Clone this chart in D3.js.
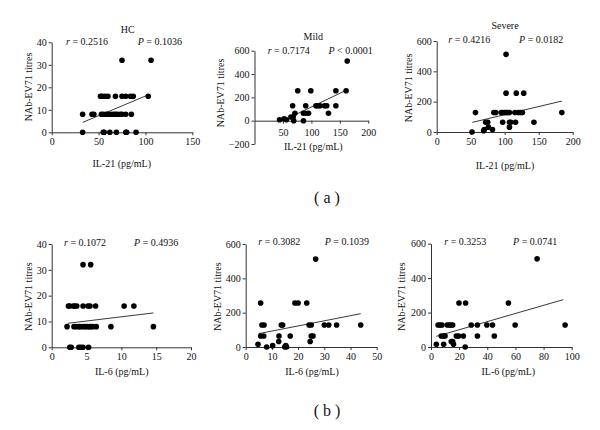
<!DOCTYPE html>
<html><head><meta charset="utf-8">
<script src="https://cdn.jsdelivr.net/npm/d3@7"></script>
<style>
html,body{margin:0;padding:0;background:#fff;}
svg text{font-family:"Liberation Serif","DejaVu Serif",serif;fill:#111;}
</style></head>
<body>
<svg id="chart" width="600" height="430"></svg>
<script>
// ---------- data ----------
const hcIL21 = [75,106, 52,54,57,60,68,75,79,84,87,103, 33,43,45,53,55,58,60,63,66,68,70,73,75,79,85, 33,55,56,62,69,79,80,90];
const hcTitre = [32,32, 16,16,16,16,16,16,16,16,16,16, 8,8,8,8,8,8,8,8,8,8,8,8,8,8,8, 0,0,0,0,0,0,0,0];
const hcFit = [[33,4.4],[101,16.3]];

const mildIL21 = [163, 76,99,143,161, 67,90,108,111,115,123,127,143, 71,86,90,95,130, 64,68, 52, 44,56, 69,86];
const mildTitre = [512, 256,256,256,256, 128,128,128,128,128,128,128,128, 64,64,64,64,64, 32,32, 16, 8,8, 0,0];
const mildFit = [[65.7,37],[162,263]];

const sevIL21 = [102, 102,117,128, 57,84,87,95,97,100,102,104,107,115,120,123,126,184, 72,75,97,107,109,116,143, 76,107, 70,82, 69, 52];
const sevTitre = [512, 256,256,256, 128,128,128,128,128,128,128,128,128,128,128,128,128,128, 64,64,64,64,64,64,64, 32,32, 16,16, 8, 0];
const sevFit = [[52.5,63.5],[184,204]];

const hcIL6 = [4.5,5.6, 2.4,2.6,3.1,3.3,3.6,4.5,5.2,5.5,6.3,10.4,11.8, 2.2,3.2,3.5,3.9,4.1,4.5,4.8,5.1,5.4,5.6,5.9,6.4,8.5,14.6, 2.6,2.8,3.9,4.2,4.5,5.3];
const hcTitre6 = [32,32, 16,16,16,16,16,16,16,16,16,16,16, 8,8,8,8,8,8,8,8,8,8,8,8,8,8, 0,0,0,0,0,0];
const hcFit6 = [[2.3,9.3],[14.6,13.3]];

const mildIL6 = [26.7, 5.7,18.8,20,23.3, 6.2,7,13.6,14.1,24.2,25,30,31.7,34.7,43.9, 5.7,6.9,12.7,17,25,25.7, 12.6,24.6, 4.7, 10.3,15.3, 8,14.9,15.6];
const mildTitre6 = [512, 256,256,256,256, 128,128,128,128,128,128,128,128,128,128, 64,64,64,64,64,64, 32,32, 16, 8,8, 0,0,0];
const mildFit6 = [[5,78],[43.9,194]];

const sevIL6 = [75.4, 19.9,24.6,55, 5,6.4,7.8,11.6,13,14.2,15.4,28.6,33,39.7,43.7,59.8,95.3, 7.3,9,10,18,19.6,23,33,45, 14.4,15.4, 3.8,9,16, 24.3];
const sevTitre6 = [512, 256,256,256, 128,128,128,128,128,128,128,128,128,128,128,128,128, 64,64,64,64,64,64,64,64, 32,32, 16,16,16, 0];
const sevFit6 = [[3.8,62],[94,275]];

const rValues = ["0.2516","0.7174","0.4216","0.1072","0.3082","0.3253"];
const pValues = ["= 0.1036","< 0.0001","= 0.0182","= 0.4936","= 0.1039","= 0.0741"];
const panelTitles = ["HC","Mild","Severe","","",""];
const xTitles = ["IL-21 (pg/mL)","IL-21 (pg/mL)","IL-21 (pg/mL)","IL-6 (pg/mL)","IL-6 (pg/mL)","IL-6 (pg/mL)"];
const yTitle = "NAb-EV71 titres";
const sectionLabels = ["( a )","( b )"];

// ---------- layout ----------
const svg = d3.select("#chart");
const panels = [
  {xs:hcIL21, ys:hcTitre, fit:hcFit, xDom:[0,150], xT:[0,50,100,150], yDom:[0,40], yT:[0,10,20,30,40],
   px:[51.7,192.3], py:[132.3,42.3], xAxisAt:0, xPad:3,
   title:[127.7,32.5], rPos:[66,45], pEnd:182, xt:[121.7,166.5], yt:[28.5,87]},
  {xs:mildIL21, ys:mildTitre, fit:mildFit, xDom:[0,200], xT:[50,100,150,200], yDom:[-200,600], yT:[-200,0,200,400,600],
   px:[254.5,368.3], py:[144,50.7], xAxisAt:0, xPad:5,
   title:[313.3,39.5], rPos:[267.7,54], pEnd:372.7, xt:[313.3,149.5], yt:[220,93]},
  {xs:sevIL21, ys:sevTitre, fit:sevFit, xDom:[0,200], xT:[0,50,100,150,200], yDom:[0,600], yT:[0,200,400,600],
   px:[436.7,572.7], py:[132,41], xAxisAt:0, xPad:3,
   title:[505,28.5], rPos:[448.3,42.5], pEnd:563.3, xt:[505,168.5], yt:[408.3,88]},
  {xs:hcIL6, ys:hcTitre6, fit:hcFit6, xDom:[0,20], xT:[0,5,10,15,20], yDom:[0,40], yT:[0,10,20,30,40],
   px:[51.7,191], py:[347.3,244], xAxisAt:0, xPad:3,
   title:null, rPos:[64,245.5], pEnd:178.3, xt:[121.7,374.5], yt:[28.5,296.7]},
  {xs:mildIL6, ys:mildTitre6, fit:mildFit6, xDom:[0,50], xT:[0,10,20,30,40,50], yDom:[0,600], yT:[0,200,400,600],
   px:[245.7,376.7], py:[347,244], xAxisAt:0, xPad:3,
   title:null, rPos:[258.3,245], pEnd:369, xt:[312,374.5], yt:[217.7,296.7]},
  {xs:sevIL6, ys:sevTitre6, fit:sevFit6, xDom:[0,100], xT:[0,20,40,60,80,100], yDom:[0,600], yT:[0,200,400,600],
   px:[431,571.7], py:[347,243.7], xAxisAt:0, xPad:3,
   title:null, rPos:[444.3,245], pEnd:557.3, xt:[508.3,374.5], yt:[401,296.7]}
];

const fmt = v => v < 0 ? "\u2212" + Math.abs(v) : String(v);

panels.forEach((p, i) => {
  const x = d3.scaleLinear().domain(p.xDom).range(p.px);
  const y = d3.scaleLinear().domain(p.yDom).range(p.py);
  const g = svg.append("g");

  // y axis
  const ya = g.append("g").attr("transform", `translate(${p.px[0]},0)`)
    .call(d3.axisLeft(y).tickValues(p.yT).tickSize(3).tickSizeOuter(0).tickPadding(2).tickFormat(fmt));
  // x axis
  const xa = g.append("g").attr("transform", `translate(0,${y(p.xAxisAt)})`)
    .call(d3.axisBottom(x).tickValues(p.xT).tickSize(3).tickSizeOuter(0).tickPadding(p.xPad).tickFormat(fmt));
  [ya, xa].forEach(a => {
    a.selectAll("path,line").attr("stroke", "#333").attr("stroke-width", 1);
    a.selectAll("text").attr("font-size", 10).attr("font-family", "Liberation Serif").attr("fill", "#111");
  });

  // trend line
  g.append("line")
    .attr("x1", x(p.fit[0][0])).attr("y1", y(p.fit[0][1]))
    .attr("x2", x(p.fit[1][0])).attr("y2", y(p.fit[1][1]))
    .attr("stroke", "#222").attr("stroke-width", 0.9);

  // points
  g.selectAll("circle.pt").data(p.xs.map((v, k) => [v, p.ys[k]])).enter()
    .append("circle").attr("class", "pt")
    .attr("cx", d => x(d[0])).attr("cy", d => y(d[1])).attr("r", 2.8).attr("fill", "#000");

  // title
  if (panelTitles[i]) {
    g.append("text").attr("x", p.title[0]).attr("y", p.title[1]).attr("text-anchor", "middle")
      .attr("font-size", 10).text(panelTitles[i]);
  }
  // r and P
  const rt = g.append("text").attr("x", p.rPos[0]).attr("y", p.rPos[1]).attr("font-size", 10);
  rt.append("tspan").attr("font-style", "italic").text("r");
  rt.append("tspan").text(" = " + rValues[i]);
  const pt = g.append("text").attr("x", p.pEnd).attr("y", p.rPos[1]).attr("font-size", 10).attr("text-anchor", "end");
  pt.append("tspan").attr("font-style", "italic").text("P");
  pt.append("tspan").text(" " + pValues[i]);

  // axis titles
  g.append("text").attr("x", p.xt[0]).attr("y", p.xt[1]).attr("text-anchor", "middle")
    .attr("font-size", 10).text(xTitles[i]);
  g.append("text").attr("transform", `translate(${p.yt[0]},${p.yt[1]}) rotate(-90)`)
    .attr("text-anchor", "middle").attr("dy", "0.35em").attr("font-size", 10).text(yTitle);
});

// section labels
svg.append("text").attr("x", 327).attr("y", 203).attr("text-anchor", "middle").attr("font-size", 16)
  .attr("font-family", "Liberation Sans").text(sectionLabels[0]);
svg.append("text").attr("x", 327).attr("y", 416).attr("text-anchor", "middle").attr("font-size", 16)
  .attr("font-family", "Liberation Sans").text(sectionLabels[1]);
</script>
</body></html>
